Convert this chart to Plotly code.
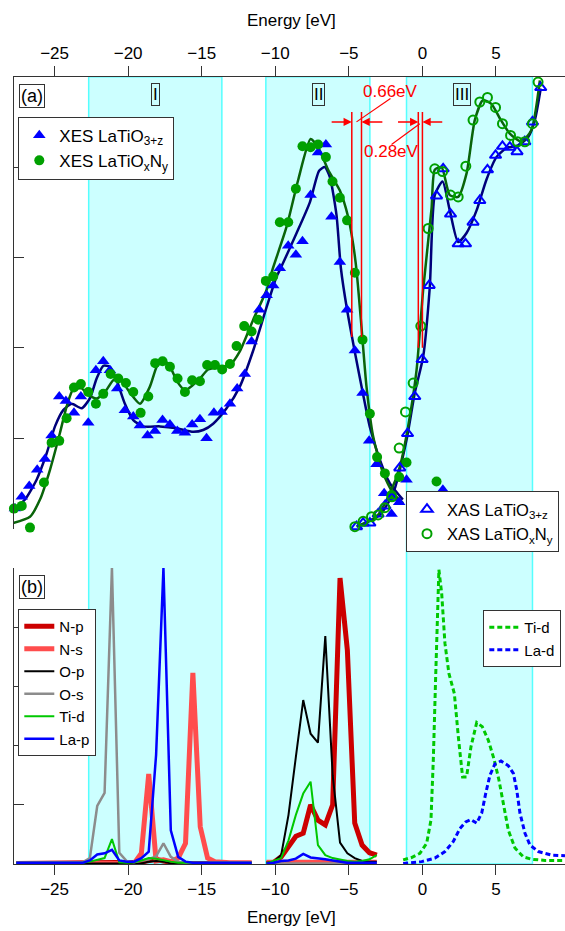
import plotly.graph_objects as go

# ---------------- panel (a): XES / XAS data ----------------
xes_o3_E = [-27.69, -27.23, -26.72, -26.18, -25.65, -25.2, -24.68, -24.23, -23.68, -23.21, -22.71, -22.19,
            -21.69, -21.24, -20.74, -20.22, -19.65, -19.2, -18.68, -18.18, -17.66, -17.16, -16.66, -16.14,
            -15.65, -15.12, -14.67, -14.17, -13.65, -13.08, -12.59, -12.07, -11.61, -11.09, -10.59, -10.14,
            -9.69, -9.12, -8.6, -8.15, -7.6, -7.09, -6.56, -6.18, -5.61, -5.12, -4.59, -4.07, -3.62, -3.12,
            -2.6, -2.1, -1.58, -1.08, 1.39]
xes_o3_I = [0.22, 0.35, 0.47, 0.65, 0.77, 1.03, 1.46, 1.41, 1.28, 1.46, 1.17, 1.75,
            1.85, 1.75, 1.55, 1.31, 1.24, 1.14, 1.03, 1.08, 1.2, 1.15, 1.08, 1.06,
            1.15, 1.21, 1.0, 1.28, 1.29, 1.38, 1.55, 1.71, 2.07, 2.42, 2.58, 2.69,
            2.88, 3.13, 3.03, 3.18, 3.69, 4.16, 4.25, 3.45, 2.95, 2.42, 1.97, 1.5, 0.97, 0.71,
            0.39, 0.16, 0.29, 0.54, 0.43]

xes_on_E = [-27.76, -27.23, -26.67, -25.72, -25.2, -24.68, -24.18, -23.68, -23.21, -22.71, -22.19, -21.69,
            -21.19, -20.67, -20.15, -19.65, -19.15, -18.63, -18.16, -17.66, -17.16, -16.64, -16.14, -15.65,
            -15.12, -14.63, -14.1, -13.61, -13.08, -12.63, -12.11, -11.61, -11.16, -10.64, -10.14, -9.69,
            -9.12, -8.6, -8.15, -7.6, -7.09, -6.56, -6.11, -5.61, -5.12, -4.59, -4.07, -3.57, -3.08,
            -2.55, -2.1, -1.58, -1.08, 0.96, 2.68]
xes_on_I = [0.22, 0.25, 0.01, 0.51, 0.95, 0.97, 1.22, 1.56, 1.6, 1.51, 1.38, 1.49,
            1.71, 1.66, 1.61, 1.51, 1.28, 1.46, 1.83, 1.85, 1.79, 1.66, 1.51, 1.64,
            1.63, 1.81, 1.81, 1.76, 1.82, 2.02, 2.24, 2.18, 2.31, 2.74, 2.79, 3.39,
            3.39, 3.76, 4.23, 4.22, 4.25, 4.11, 3.84, 3.66, 3.41, 2.83, 2.09, 1.27, 0.79,
            0.61, 0.37, 0.57, 0.73, 0.52, 0.2]

xes_o3_fit_E = [-27.81, -27.01, -26.22, -25.54, -24.97, -24.41, -23.84, -23.16, -22.6, -22.14, -21.69, -21.24,
                -20.78, -20.22, -19.65, -18.97, -17.84, -16.71, -15.58, -14.9, -14.22, -13.31, -12.41, -11.5,
                -10.59, -9.91, -9.69, -8.55, -7.65, -7.02, -6.63, -6.29, -5.84, -5.54, -5.12, -4.59, -4.05,
                -3.57, -2.89, -2.21, -1.33]
xes_o3_fit_I = [0.2, 0.32, 0.54, 0.83, 1.13, 1.31, 1.38, 1.33, 1.44, 1.66, 1.8, 1.79,
                1.64, 1.38, 1.2, 1.13, 1.13, 1.11, 1.07, 1.09, 1.16, 1.33, 1.57, 1.97,
                2.45, 2.79, 2.86, 3.27, 3.61, 3.96, 4.0, 3.89, 3.47, 2.88, 2.42, 1.95, 1.5,
                1.12, 0.76, 0.5, 0.32]

xes_on_fit_E = [-27.81, -26.67, -25.99, -25.31, -24.63, -24.18, -23.73, -23.16, -22.71, -22.14, -21.58, -21.01,
                -20.56, -19.99, -19.2, -18.52, -18.06, -17.66, -17.16, -16.64, -16.14, -15.58, -15.12, -14.56,
                -13.76, -13.08, -12.41, -11.5, -10.59, -10.2, -9.23, -8.44, -7.6, -7.09, -6.41, -5.61, -5.05,
                -4.71, -4.48, -4.14, -3.8, -3.35, -2.67, -1.99, -1.31]
xes_on_fit_I = [0.06, 0.13, 0.32, 0.65, 1.06, 1.35, 1.54, 1.55, 1.48, 1.44, 1.51, 1.64,
                1.66, 1.53, 1.38, 1.57, 1.79, 1.87, 1.79, 1.62, 1.53, 1.59, 1.66, 1.76,
                1.79, 1.81, 1.96, 2.31, 2.64, 2.86, 3.34, 3.86, 4.31, 4.22, 3.97, 3.74, 3.45,
                3.15, 2.86, 2.23, 1.57, 1.02, 0.61, 0.39, 0.28]

xas_o3_E = [-4.48, -4.03, -3.57, -3.01, -2.55, -2.08, -1.54, -1.01, -0.52, -0.02, 0.46, 0.96, 1.41, 1.91,
            2.43, 2.93, 3.44, 3.9, 4.42, 4.97, 5.44, 5.94, 6.43, 6.96, 7.48, 8.04]
xas_o3_I = [0.02, 0.06, 0.06, 0.16, 0.25, 0.34, 0.67, 1.05, 1.46, 1.87, 2.69, 3.68, 3.98, 3.48,
            3.15, 3.15, 3.39, 3.63, 3.97, 4.13, 4.23, 4.22, 4.17, 4.28, 4.5, 4.88]

xas_on_E = [-4.59, -4.03, -3.46, -3.01, -2.55, -2.08, -1.58, -1.15, -0.63, -0.11, 0.39, 0.84, 1.37, 1.91,
            2.43, 2.95, 3.44, 3.9, 4.42, 4.97, 5.44, 5.99, 6.46, 6.96, 7.48, 7.86]
xas_on_I = [0.02, 0.08, 0.13, 0.15, 0.23, 0.35, 0.89, 1.29, 1.61, 2.24, 3.32, 3.98, 3.95, 3.69,
            3.67, 4.01, 4.52, 4.72, 4.77, 4.66, 4.48, 4.35, 4.28, 4.28, 4.48, 4.94]

xas_o3_fit_E = [-4.45, -2.89, -1.99, -1.08, -0.52, 0.05, 0.5, 0.84, 1.37, 1.86, 2.43, 3.0, 3.68, 4.35,
                5.03, 5.71, 6.5, 7.18, 7.64, 8.04]
xas_o3_fit_I = [0.02, 0.15, 0.39, 0.98, 1.5, 1.9, 2.67, 3.69, 3.84, 3.52, 3.17, 3.27, 3.52, 3.86,
                4.11, 4.21, 4.24, 4.33, 4.52, 4.87]

xas_on_fit_E = [-4.48, -3.12, -2.21, -1.54, -0.97, -0.4, 0.05, 0.62, 0.84, 1.3, 1.86, 2.43, 3.0, 3.56,
                4.12, 4.69, 5.26, 5.94, 6.73, 7.41, 7.98]
xas_on_fit_I = [0.02, 0.13, 0.39, 0.68, 1.13, 1.75, 2.64, 3.54, 3.97, 4.0, 3.69, 3.67, 3.93, 4.52,
                4.74, 4.7, 4.54, 4.37, 4.28, 4.41, 4.96]

# ---------------- panel (b): calculated PDOS ----------------
E_seg1 = [-27.6, -27.1, -26.6, -26.1, -25.6, -25.1, -24.6, -24.1, -23.6, -23.1, -22.6, -22.1, -21.6,
          -21.1, -20.6, -20.1, -19.6, -19.1, -18.6, -18.1, -17.6, -17.1, -16.6, -16.1, -15.6, -15.1,
          -14.6, -14.1, -13.6, -13.1, -12.6, -12.1, -11.6]
E_seg2 = [-10.6, -10.1, -9.6, -9.1, -8.6, -8.1, -7.6, -7.1, -6.6, -6.1, -5.6, -5.1, -4.6, -4.1, -3.6, -3.1]

Np_1 = [0.01] * 17 + [0.03, 0.06, 0.08, 0.05, 0.02] + [0.01] * 11
Ns_1 = [0.01] * 17 + [0.18, 1.52, 0.05, 0.07, 0.04, 0.1, 0.35, 3.23, 0.63, 0.1, 0.04, 0.02, 0.02, 0.02, 0.02, 0.02]
Op_1 = [0.01] * 18 + [0.04, 0.05, 0.04] + [0.01] * 12
Os_1 = [0.02] * 9 + [0.03, 0.1, 0.98, 1.2, 5.0, 0.19, 0.05, 0.03, 0.05, 0.08, 0.13, 0.35, 0.12, 0.04] + [0.02] * 10
Tid_1 = [0.02] * 10 + [0.04, 0.07, 0.1, 0.42, 0.03, 0.02, 0.03, 0.06, 0.1, 0.09, 0.06, 0.04] + [0.02] * 11
Lap_1 = [0.02] * 10 + [0.06, 0.16, 0.18, 0.24, 0.06, 0.04, 0.04, 0.1, 0.21, 1.84, 5.0, 0.57, 0.12, 0.04] + [0.02] * 9

Np_2 = [0.01, 0.03, 0.12, 0.29, 0.47, 0.52, 1.0, 0.74, 0.66, 1.0, 4.83, 3.61, 0.69, 0.32, 0.19, 0.15]
Ns_2 = [0.03] * 16
Op_2 = [0.02, 0.04, 0.15, 0.83, 1.81, 2.77, 2.2, 2.05, 3.85, 1.5, 0.36, 0.18, 0.1, 0.05, 0.04, 0.04]
Os_2 = [0.01] * 16
Tid_2 = [0.01, 0.05, 0.1, 0.4, 0.83, 1.19, 1.39, 0.32, 0.15, 0.1, 0.07, 0.05, 0.04, 0.05, 0.08, 0.15]
Lap_2 = [0.01, 0.02, 0.05, 0.06, 0.09, 0.17, 0.11, 0.1, 0.08, 0.06, 0.04, 0.02, 0.02, 0.02, 0.02, 0.02]

E_cb_tid = [-1.31, -0.74, -0.17, 0.29, 0.58, 0.74, 0.9, 1.12, 1.31, 1.53, 1.8, 2.17, 2.44, 2.73, 3.0, 3.3,
            3.69, 4.07, 4.48, 4.88, 5.2, 5.5, 5.84, 6.29, 6.86, 7.43, 8.33, 9.69]
Tid_cb = [0.07, 0.11, 0.18, 0.35, 0.74, 1.76, 3.16, 4.97, 4.57, 3.73, 3.22, 2.88, 2.15, 1.47, 1.47, 1.98,
          2.39, 2.32, 2.09, 1.76, 1.42, 1.03, 0.57, 0.27, 0.12, 0.08, 0.06, 0.06]
E_cb_lad = [-1.31, -0.05, 0.85, 1.53, 2.1, 2.55, 2.94, 3.3, 3.69, 4.03, 4.3, 4.59, 4.93, 5.34, 5.84, 6.18,
            6.41, 6.63, 6.97, 7.31, 7.88, 8.79, 9.69]
Lad_cb = [0.01, 0.04, 0.1, 0.21, 0.38, 0.6, 0.71, 0.75, 0.69, 0.86, 1.19, 1.5, 1.69, 1.74, 1.66, 1.53,
          1.25, 0.86, 0.52, 0.32, 0.21, 0.15, 0.14]

regions = [(-22.68, -13.63), (-10.64, -3.57), (-1.08, 7.48)]
region_labels = ["I", "II", "III"]
region_label_E = [-18.13, -7.08, 2.68]
x_ticks = [-25, -20, -15, -10, -5, 0, 5]
shift_lines_a = [-4.80, -4.14]
shift_lines_b = [-0.28, 0.0]

# ---------------- layout helpers ----------------
W, H = 565, 931
FONT = "Liberation Sans, Arial, sans-serif"
AX = "#333333"


def fx(p):
    return p / W


def fy(p):
    return 1 - p / H


X_RANGE = [-27.79, 9.69]
YA_DOM = [fy(528.5), fy(76.7)]
YB_DOM = [fy(864), fy(568)]


def join(a, b):
    return list(a) + [None] + list(b)


E_pd = join(E_seg1, E_seg2)

fig = go.Figure()

# panel (a)
fit_line = dict(width=2.5, shape="spline", smoothing=0.6)
fig.add_trace(go.Scatter(x=xes_o3_fit_E, y=xes_o3_fit_I, mode="lines", line=dict(color="#00007a", **fit_line),
                         showlegend=False, xaxis="x", yaxis="y"))
fig.add_trace(go.Scatter(x=xes_on_fit_E, y=xes_on_fit_I, mode="lines", line=dict(color="#0a640a", **fit_line),
                         showlegend=False, xaxis="x", yaxis="y"))
fig.add_trace(go.Scatter(x=xas_o3_fit_E, y=xas_o3_fit_I, mode="lines", line=dict(color="#00007a", **fit_line),
                         showlegend=False, xaxis="x", yaxis="y"))
fig.add_trace(go.Scatter(x=xas_on_fit_E, y=xas_on_fit_I, mode="lines", line=dict(color="#0a640a", **fit_line),
                         showlegend=False, xaxis="x", yaxis="y"))

fig.add_trace(go.Scatter(x=xes_o3_E, y=xes_o3_I, mode="markers", name="XES LaTiO<sub>3+z</sub>",
                         marker=dict(symbol="triangle-up", size=11, color="#0000ff", line=dict(width=0)),
                         cliponaxis=False, legend="legend", xaxis="x", yaxis="y"))
fig.add_trace(go.Scatter(x=xes_on_E, y=xes_on_I, mode="markers", name="XES LaTiO<sub>x</sub>N<sub>y</sub>",
                         marker=dict(symbol="circle", size=10, color="#00a000", line=dict(width=0)),
                         cliponaxis=False, legend="legend", xaxis="x", yaxis="y"))
fig.add_trace(go.Scatter(x=xas_o3_E, y=xas_o3_I, mode="markers", name="XAS LaTiO<sub>3+z</sub>",
                         marker=dict(symbol="triangle-up-open", size=10, color="#0000ff", line=dict(width=2, color="#0000ff")),
                         cliponaxis=False, legend="legend2", xaxis="x", yaxis="y"))
fig.add_trace(go.Scatter(x=xas_on_E, y=xas_on_I, mode="markers", name="XAS LaTiO<sub>x</sub>N<sub>y</sub>",
                         marker=dict(symbol="circle-open", size=9, color="#00a000", line=dict(width=2, color="#00a000")),
                         cliponaxis=False, legend="legend2", xaxis="x", yaxis="y"))

# panel (b)
pdos = [
    ("N-p", join(Np_1, Np_2), "#cc0000", 5),
    ("N-s", join(Ns_1, Ns_2), "#ff4d4d", 5),
    ("O-p", join(Op_1, Op_2), "#000000", 2),
    ("O-s", join(Os_1, Os_2), "#8c8c8c", 2.5),
    ("Ti-d", join(Tid_1, Tid_2), "#00c800", 2),
    ("La-p", join(Lap_1, Lap_2), "#0000ff", 2.5),
]
for name, vals, col, w in pdos:
    fig.add_trace(go.Scatter(x=E_pd, y=vals, mode="lines", name=name, line=dict(color=col, width=w),
                             connectgaps=False, legend="legend3", xaxis="x", yaxis="y2"))

fig.add_trace(go.Scatter(x=E_cb_tid, y=Tid_cb, mode="lines", name="Ti-d",
                         line=dict(color="#00c800", width=3, dash="5px,3px"), legend="legend4", xaxis="x", yaxis="y2"))
fig.add_trace(go.Scatter(x=E_cb_lad, y=Lad_cb, mode="lines", name="La-d",
                         line=dict(color="#0000ff", width=3, dash="5px,3px"), legend="legend4", xaxis="x", yaxis="y2"))

# dummy trace so the top axis is drawn
fig.add_trace(go.Scatter(x=[None], y=[None], xaxis="x2", yaxis="y", showlegend=False, hoverinfo="skip"))

shapes = []
for x0, x1 in regions:
    shapes.append(dict(type="rect", xref="x", yref="paper", x0=x0, x1=x1, y0=fy(864), y1=fy(76.7),
                       fillcolor="#ccffff", line=dict(color="#55ffff", width=1.5), layer="below"))
for xv in shift_lines_a:
    shapes.append(dict(type="line", xref="x", yref="y", x0=xv, x1=xv, y0=2.12, y1=4.61,
                       line=dict(color="#ff0000", width=1.5)))
for xv in shift_lines_b:
    shapes.append(dict(type="line", xref="x", yref="y", x0=xv, x1=xv, y0=2.0, y1=4.61,
                       line=dict(color="#ff0000", width=1.5)))
# leader lines from the labels to the arrows
shapes.append(dict(type="line", xref="x", yref="y", x0=-2.17, y0=4.76, x1=-4.48, y1=4.5, line=dict(color="#ff0000", width=1.2)))
shapes.append(dict(type="line", xref="x", yref="y", x0=-2.1, y0=4.25, x1=-0.18, y1=4.48, line=dict(color="#ff0000", width=1.2)))

annotations = []
for head, tail in [(shift_lines_a[0], -6.27), (shift_lines_a[1], -2.62), (shift_lines_b[0], -1.76), (shift_lines_b[1], 1.45)]:
    annotations.append(dict(x=head, y=4.5, ax=tail, ay=4.5, xref="x", yref="y", axref="x", ayref="y",
                            text="", showarrow=True, arrowhead=2, arrowsize=1.1, arrowwidth=1.5,
                            arrowcolor="#ff0000", standoff=0))
annotations.append(dict(x=-2.17, y=4.84, xref="x", yref="y", text="0.66eV", showarrow=False,
                        xanchor="center", yanchor="middle", font=dict(family=FONT, size=17, color="#ff0000")))
annotations.append(dict(x=-2.08, y=4.17, xref="x", yref="y", text="0.28eV", showarrow=False,
                        xanchor="center", yanchor="middle", font=dict(family=FONT, size=17, color="#ff0000")))
for lab, xe in zip(region_labels, region_label_E):
    annotations.append(dict(x=xe, y=fy(94), xref="x", yref="paper", text=lab, showarrow=False,
                            xanchor="center", yanchor="middle",
                            font=dict(family=FONT, size=17, color="#000000"), bordercolor="#333333",
                            borderwidth=1, borderpad=1))
for lab, cy in [("(a)", 95.5), ("(b)", 587)]:
    annotations.append(dict(x=fx(31.7), y=fy(cy), xref="paper", yref="paper", text=lab, showarrow=False,
                            xanchor="center", yanchor="middle",
                            font=dict(family=FONT, size=18, color="#000000"), bordercolor="#333333",
                            borderwidth=1, borderpad=1))
for cy in [21, 917]:
    annotations.append(dict(x=fx(291), y=fy(cy), xref="paper", yref="paper", text="Energy [eV]", showarrow=False,
                            xanchor="center", yanchor="middle", font=dict(family=FONT, size=17, color="#000000")))

xcommon = dict(range=X_RANGE, domain=[fx(13.5), 1], showline=True, linecolor=AX, linewidth=1,
               ticks="outside", ticklen=10, tickwidth=1, tickcolor=AX, tickvals=x_ticks,
               tickfont=dict(family=FONT, size=17, color="#000000"), showgrid=False, zeroline=False)
ycommon = dict(range=[0, 5], showline=True, linecolor=AX, linewidth=1, ticks="inside", ticklen=10,
               tickwidth=1, tickcolor=AX, tickvals=[0, 1, 2, 3, 4, 5], showticklabels=False,
               showgrid=False, zeroline=False, anchor="x")

legend_common = dict(bgcolor="#ffffff", bordercolor="#333333", borderwidth=1, tracegroupgap=0,
                     xanchor="left", yanchor="top", itemclick=False, itemdoubleclick=False)

fig.update_layout(
    width=W, height=H, margin=dict(l=0, r=0, t=0, b=0),
    paper_bgcolor="#ffffff", plot_bgcolor="rgba(0,0,0,0)",
    font=dict(family=FONT, size=17, color="#000000"),
    xaxis=dict(**xcommon, anchor="y2", side="bottom"),
    xaxis2=dict(**xcommon, anchor="y", side="top", overlaying="x"),
    yaxis=dict(**ycommon, domain=YA_DOM),
    yaxis2=dict(**ycommon, domain=YB_DOM),
    legend=dict(**legend_common, x=fx(18.3), y=fy(116.7), font=dict(family=FONT, size=17)),
    legend2=dict(**legend_common, x=fx(406), y=fy(491), font=dict(family=FONT, size=16.5)),
    legend3=dict(**legend_common, x=fx(18.3), y=fy(609), font=dict(family=FONT, size=15)),
    legend4=dict(**legend_common, x=fx(483.3), y=fy(610), font=dict(family=FONT, size=15)),
    shapes=shapes, annotations=annotations, showlegend=True,
)

fig.write_html("out.html")
